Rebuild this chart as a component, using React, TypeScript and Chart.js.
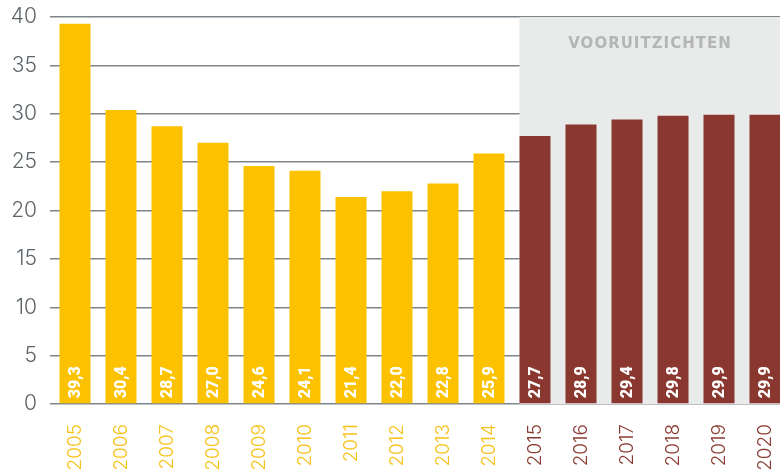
import React, { useEffect, useRef } from "react";
import { Chart, registerables } from "chart.js";

Chart.register(...registerables);

const years = ["2005","2006","2007","2008","2009","2010","2011","2012","2013","2014","2015","2016","2017","2018","2019","2020"];
const values = [39.3, 30.4, 28.7, 27.0, 24.6, 24.1, 21.4, 22.0, 22.8, 25.9, 27.7, 28.9, 29.4, 29.8, 29.9, 29.9];
const forecastStart = 10; // index of 2015
const forecastLabel = "VOORUITZICHTEN";
const yTicks = [0, 5, 10, 15, 20, 25, 30, 35, 40];

const YELLOW = "#FCC200";
const RED = "#8A382F";
const GREY_BG = "#E9EAEA";
const GRID = "#7E858A";
const TICK_FONT = "Inter, 'DejaVu Sans', sans-serif";

const bgPlugin = {
  id: "forecastBg",
  beforeDatasetsDraw(chart: any) {
    const { ctx, chartArea } = chart;
    const meta = chart.getDatasetMeta(0);
    const bar = meta.data[forecastStart] as any;
    const left = bar.x - bar.width / 2;
    ctx.save();
    ctx.fillStyle = GREY_BG;
    ctx.fillRect(left, chartArea.top, chart.width - left, chartArea.bottom - chartArea.top);
    const xs = chart.scales.x;
    const cx = (xs.getPixelForValue(forecastStart) + xs.getPixelForValue(years.length - 1)) / 2;
    ctx.fillStyle = "#B4B5B6";
    ctx.font = "bold 15px 'DejaVu Sans', sans-serif";
    (ctx as any).letterSpacing = "1px";
    ctx.textAlign = "center";
    ctx.textBaseline = "middle";
    ctx.fillText(forecastLabel, cx, 44);
    ctx.restore();
  },
};

const valuePlugin = {
  id: "valueLabels",
  afterDatasetsDraw(chart: any) {
    const { ctx } = chart;
    const meta = chart.getDatasetMeta(0);
    ctx.save();
    ctx.fillStyle = "#FFFFFF";
    ctx.font = "900 16px Roboto, sans-serif";
    ctx.textAlign = "left";
    ctx.textBaseline = "middle";
    meta.data.forEach((bar: any, i: number) => {
      ctx.save();
      ctx.translate(bar.x + 1, bar.base - 5);
      ctx.rotate(-Math.PI / 2);
      ctx.fillText(values[i].toFixed(1).replace(".", ","), 0, 0);
      ctx.restore();
    });
    ctx.restore();
    // widen the y-axis labels (drawn in the z>0 layer after this hook)
    (ctx as any).letterSpacing = "2px";
  },
  afterDraw(chart: any) {
    (chart.ctx as any).letterSpacing = "0px";
  },
};

export default function App() {
  const ref = useRef<HTMLCanvasElement>(null);
  useEffect(() => {
    document.body.style.margin = "0";
    document.body.style.overflow = "hidden";
    document.documentElement.style.overflow = "hidden";
    const chart = new Chart(ref.current!, {
      type: "bar",
      data: {
        labels: years,
        datasets: [
          {
            data: values,
            backgroundColor: values.map((_, i) => (i < forecastStart ? YELLOW : RED)),
            categoryPercentage: 1,
            barPercentage: 0.674,
          },
        ],
      },
      options: {
        responsive: false,
        animation: false,
        devicePixelRatio: 1,
        layout: { padding: { top: 17, right: 2, left: 0, bottom: 0 } },
        plugins: { legend: { display: false }, tooltip: { enabled: false } },
        scales: {
          x: {
            grid: { display: false },
            border: { display: false },
            ticks: {
              minRotation: 90,
              maxRotation: 90,
              padding: 12,
              autoSkip: false,
              font: { family: TICK_FONT, size: 19, weight: 300 as any },
              color: (c: any) => (c.index < forecastStart ? "#F7C21A" : "#8A3A31"),
            },
            afterFit: (s: any) => {
              s.height = 70;
              s.paddingLeft = 0;
              s.paddingRight = 0;
            },
          },
          y: {
            min: 0,
            max: 40,
            z: 1,
            afterBuildTicks: (s: any) => {
              s.ticks = yTicks.map((v) => ({ value: v }));
            },
            grid: { color: GRID, lineWidth: 1.5, tickLength: 2, drawTicks: true },
            border: { display: false },
            ticks: {
              padding: 13,
              font: { family: TICK_FONT, size: 21, weight: 300 as any },
              color: "#5E6569",
            },
            afterFit: (s: any) => {
              s.width = 52;
              s.paddingTop = 0;
              s.paddingBottom = 0;
            },
          },
        },
      },
      plugins: [bgPlugin, valuePlugin],
    });
    return () => chart.destroy();
  }, []);
  return (
    <div style={{ position: "absolute", left: 0, top: 0, width: 790, height: 474 }}>
      <canvas ref={ref} width={790} height={474} />
    </div>
  );
}
